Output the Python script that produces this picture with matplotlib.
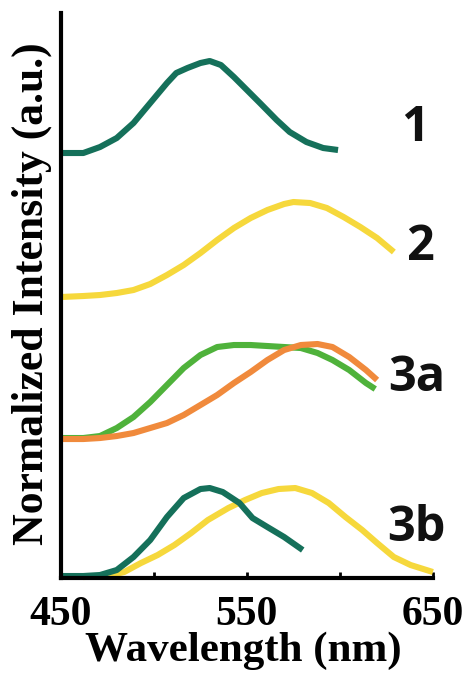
import matplotlib
matplotlib.use("Agg")
import matplotlib.pyplot as plt

# Emission spectra (wavelength in nm, stacked normalized intensity in a.u.)
wl_1 = [450, 462, 471, 480, 489, 498, 507, 512, 518, 525, 530, 536, 543, 550,
        557, 566, 573, 582, 591, 599]
int_1 = [4.25, 4.25, 4.31, 4.40, 4.55, 4.75, 4.95, 5.05, 5.10, 5.15, 5.17, 5.13,
         5.01, 4.88, 4.75, 4.58, 4.46, 4.36, 4.30, 4.28]

wl_2 = [450, 462, 471, 480, 489, 498, 507, 516, 525, 534, 543, 552, 561, 570,
        575, 584, 593, 602, 611, 620, 629]
int_2 = [2.81, 2.82, 2.83, 2.85, 2.88, 2.94, 3.03, 3.13, 3.25, 3.38, 3.50, 3.60,
         3.68, 3.74, 3.76, 3.75, 3.70, 3.61, 3.51, 3.40, 3.26]

wl_3a_green = [450, 462, 471, 480, 489, 498, 507, 516, 525, 534, 543, 552, 561,
               570, 579, 588, 596, 605, 614, 619]
int_3a_green = [1.40, 1.40, 1.42, 1.50, 1.61, 1.76, 1.93, 2.10, 2.23, 2.31, 2.33,
                2.33, 2.32, 2.31, 2.30, 2.25, 2.18, 2.08, 1.95, 1.89]

wl_3a_orange = [450, 462, 471, 480, 489, 498, 507, 516, 525, 534, 543, 552, 561,
                570, 579, 588, 596, 605, 614, 620]
int_3a_orange = [1.39, 1.39, 1.40, 1.42, 1.45, 1.50, 1.55, 1.63, 1.73, 1.83, 1.95,
                 2.06, 2.18, 2.28, 2.33, 2.34, 2.31, 2.21, 2.08, 1.98]

wl_3b_green = [451, 462, 471, 480, 489, 498, 507, 516, 525, 530, 537, 546, 553,
               561, 570, 580]
int_3b_green = [0.02, 0.02, 0.03, 0.08, 0.21, 0.38, 0.61, 0.80, 0.89, 0.90, 0.86,
                0.75, 0.60, 0.51, 0.41, 0.28]

wl_3b_yellow = [462, 475, 484, 493, 502, 511, 520, 529, 540, 549, 558, 567, 576,
                585, 594, 603, 612, 620, 629, 638, 650]
int_3b_yellow = [0.01, 0.02, 0.06, 0.15, 0.23, 0.33, 0.45, 0.58, 0.70, 0.78, 0.85,
                 0.89, 0.90, 0.85, 0.75, 0.61, 0.48, 0.35, 0.21, 0.13, 0.06]

sample_labels = ["1", "2", "3a", "3b"]
label_wl = [640.3, 643.0, 641.4, 641.4]
label_int = [4.50, 3.31, 2.00, 0.50]

x_ticks = [450, 500, 550, 600, 650]
x_tick_labels = ["450", "", "550", "", "650"]

DARK_GREEN = "#15705a"
YELLOW = "#f6d83c"
GREEN = "#4fb23b"
ORANGE = "#f08a3c"

fig = plt.figure(figsize=(4.69, 6.74), dpi=100)
ax = fig.add_axes([0.130, 0.1424, 0.793, 0.8383])

lw = 4.4
ax.plot(wl_1, int_1, color=DARK_GREEN, lw=lw, solid_capstyle="butt", clip_on=False)
ax.plot(wl_2, int_2, color=YELLOW, lw=lw, solid_capstyle="butt", clip_on=False)
ax.plot(wl_3a_green, int_3a_green, color=GREEN, lw=lw, solid_capstyle="butt", clip_on=False)
ax.plot(wl_3a_orange, int_3a_orange, color=ORANGE, lw=lw, solid_capstyle="butt", clip_on=False)
ax.plot(wl_3b_yellow, int_3b_yellow, color=YELLOW, lw=lw, solid_capstyle="butt", clip_on=False)
ax.plot(wl_3b_green, int_3b_green, color=DARK_GREEN, lw=lw, solid_capstyle="butt", clip_on=False)

ax.set_xlim(450, 650)
ax.set_ylim(0, 5.65)

for side in ("top", "right"):
    ax.spines[side].set_visible(False)
for side in ("left", "bottom"):
    ax.spines[side].set_linewidth(3)
    ax.spines[side].set_color("black")

ax.set_yticks([])
ax.set_xticks(x_ticks)
ax.set_xticklabels(x_tick_labels, fontfamily="Liberation Serif",
                   fontweight="bold", fontsize=30)
ax.tick_params(axis="x", direction="in", length=4, width=2, pad=13)

ax.set_xlabel("Wavelength (nm)", fontfamily="Liberation Serif",
              fontweight="bold", fontsize=31, va="center")
ax.xaxis.set_label_coords(0.49, -0.129)
ax.set_ylabel("Normalized Intensity (a.u.)", fontfamily="Liberation Serif",
              fontweight="bold", fontsize=31.5, va="center")
ax.yaxis.set_label_coords(-0.078, 0.503)

for text, x, y in zip(sample_labels, label_wl, label_int):
    ax.text(x, y, text, ha="center", va="center", fontfamily="Open Sans",
            fontweight="bold", fontsize=35, color="#111111")

fig.savefig("out.png", dpi=100)
